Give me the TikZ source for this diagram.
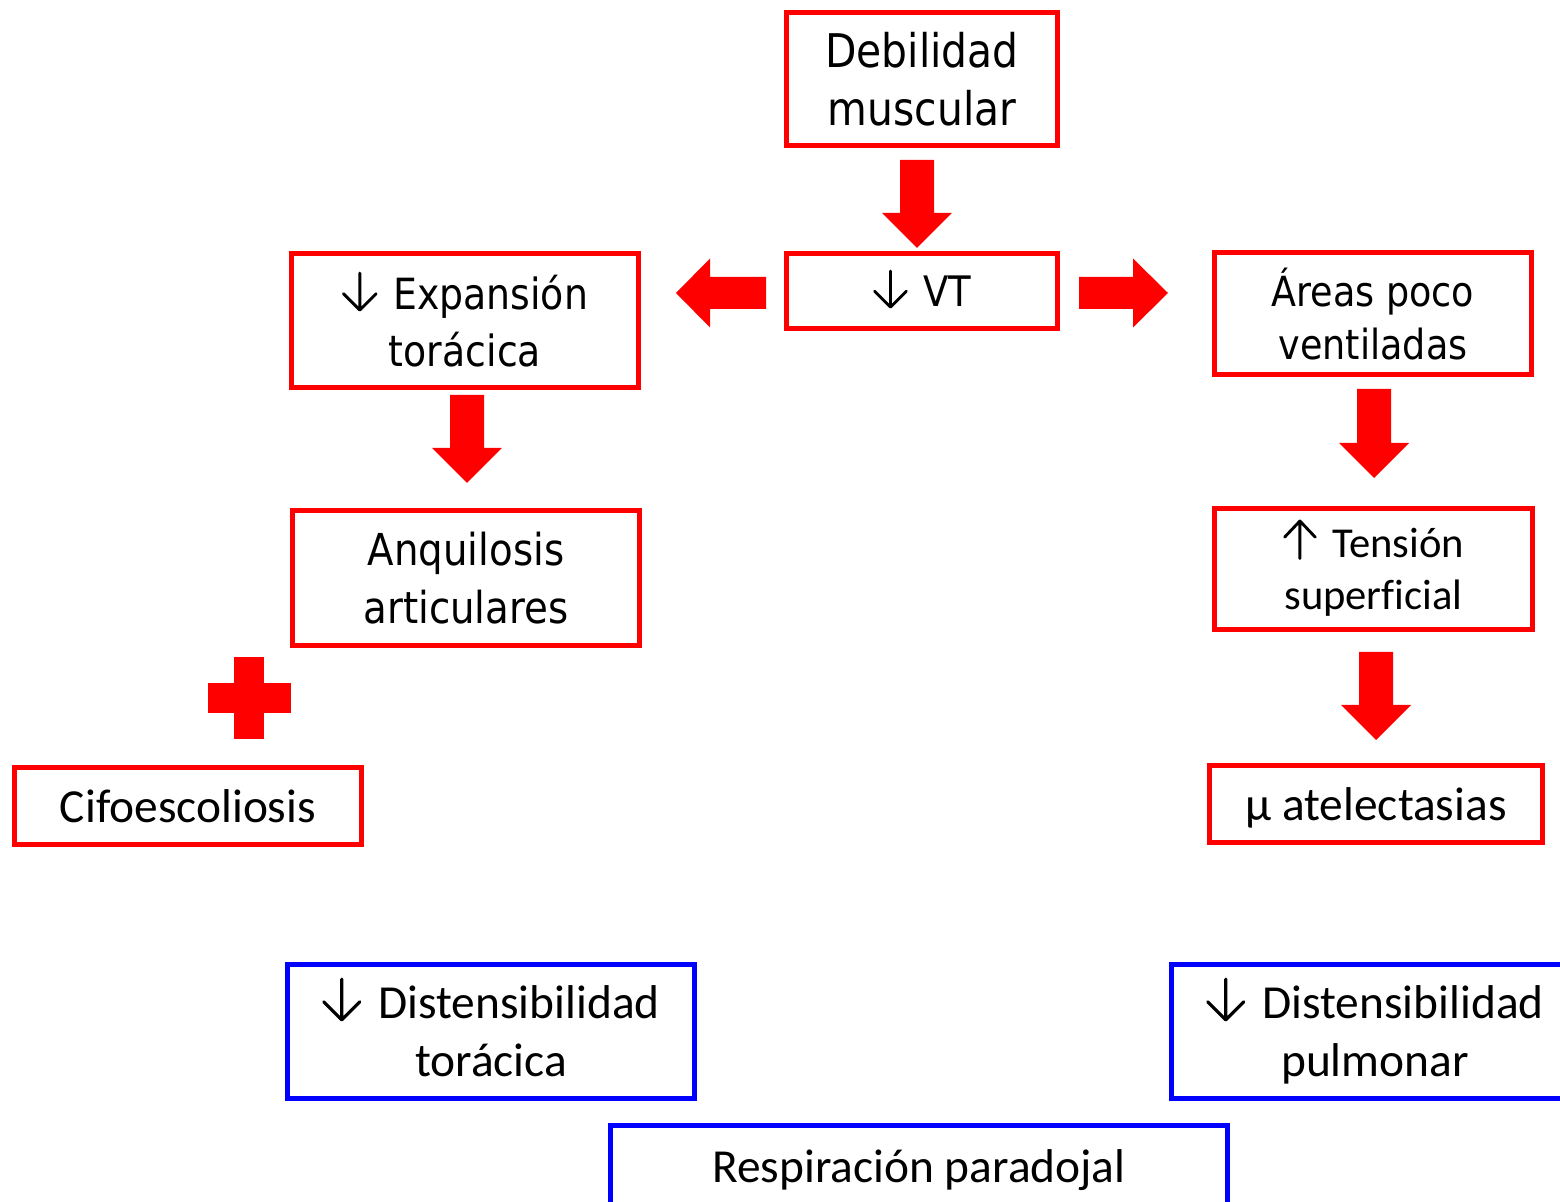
\documentclass[tikz,border=0pt]{standalone}
\usepackage{fontspec}
\setmainfont[Ligatures=NoCommon]{Carlito}
\newfontfamily\tahfont[FakeStretch=0.88]{DejaVu Sans}
% thin arrows with open heads, sized to the current font
\newcommand\dn{\smash{\tikz[baseline=0pt, x=1em, y=1em, line width=0.068em,
  line cap=round, line join=round, black]
  \draw (0,0.84) -- (0,0) (-0.38,0.36) -- (0,-0.02) -- (0.38,0.36);}\hspace{0.36em}}
\newcommand\upar{\smash{\tikz[baseline=0pt, x=1em, y=1em, line width=0.068em,
  line cap=round, line join=round, black]
  \draw (0,-0.02) -- (0,0.84) (-0.36,0.48) -- (0,0.86) -- (0.36,0.48);}\hspace{0.36em}}
% block arrow pointing down: x, y of tail, y of tip
\newcommand\downblock[3]{%
  \fill[red] (#1-17,#2) -- (#1+17,#2) -- (#1+17,#3-35) -- (#1+35,#3-35)
    -- (#1,#3) -- (#1-35,#3-35) -- (#1-17,#3-35) -- cycle;}
\begin{document}
\begin{tikzpicture}[x=0.5pt,y=-0.5pt,
  redbox/.style={draw=red, line width=2.5pt, inner sep=0pt, align=center, text depth=0pt},
  bluebox/.style={draw=blue, line width=2.5pt, inner sep=0pt, align=center, text depth=0pt},
  boxsize/.style 2 args={minimum width=#1*0.5pt, minimum height=#2*0.5pt}]
\useasboundingbox (0,0) rectangle (1560,1202);
\clip (0,0) rectangle (1560,1202);

% boxes
\node[redbox, boxsize={271}{133}, font=\tahfont\fontsize{23.2}{29}\selectfont]
  (deb) at (922,79) {Debilidad\\muscular};
\node[redbox, boxsize={271}{75}, font=\tahfont\fontsize{21}{29}\selectfont]
  (vt) at (922,291) {\dn VT};
\node[redbox, boxsize={347}{134}, font=\tahfont\fontsize{21.5}{28.5}\selectfont]
  (exp) at (465,320.5) {\dn Expansión\\torácica};
\node[redbox, boxsize={317}{122}, font=\tahfont\fontsize{20.75}{26.5}\selectfont]
  (areas) at (1373,313.5) {Áreas poco\\ventiladas};
\node[redbox, boxsize={347}{135}, font=\tahfont\fontsize{22}{29}\selectfont]
  (anq) at (466,578) {Anquilosis\\articulares};
\node[redbox, boxsize={318}{121}, font=\fontsize{21.3}{26}\selectfont]
  (ten) at (1373.5,569) {\upar Tensión\\superficial};
\node[redbox, boxsize={347}{77}, font=\fontsize{23.7}{29}\selectfont]
  (cifo) at (188,806) {Cifoescoliosis};
\node[redbox, boxsize={333}{77}, font=\fontsize{23.7}{29}\selectfont]
  (atel) at (1376,804) {µ atelectasias};
\node[bluebox, boxsize={407}{134}, font=\fontsize{23.7}{29}\selectfont]
  (dtor) at (491,1031.5) {\dn Distensibilidad\\torácica};
\node[bluebox, boxsize={407}{134}, font=\fontsize{23.7}{29}\selectfont]
  (dpul) at (1375,1031.5) {\dn Distensibilidad\\pulmonar};
\node[bluebox, boxsize={617}{80}, font=\fontsize{23.7}{29}\selectfont]
  (resp) at (919,1166) {Respiración paradojal};

% block arrows
\downblock{917}{160}{248}
\downblock{467}{395}{483}
\downblock{1374}{389}{478}
\downblock{1376}{652}{740}
\fill[red] (766,277) -- (710,277) -- (710,258.5) -- (676,293)
  -- (710,327.5) -- (710,309) -- (766,309) -- cycle;
\fill[red] (1079,277) -- (1133,277) -- (1133,258.5) -- (1168,293)
  -- (1133,327.5) -- (1133,309) -- (1079,309) -- cycle;

% plus sign
\fill[red] (234,657) rectangle (264,739);
\fill[red] (208,683) rectangle (291,713);
\end{tikzpicture}
\end{document}
